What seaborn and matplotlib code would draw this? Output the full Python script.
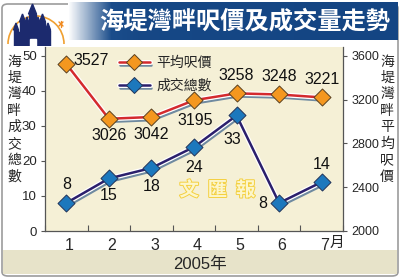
import numpy as np
import pandas as pd
import matplotlib
matplotlib.use("Agg")
import matplotlib.pyplot as plt
import matplotlib.patheffects as pe
from matplotlib.patches import FancyBboxPatch, Rectangle, Polygon, Arc
from matplotlib.lines import Line2D
from matplotlib.legend_handler import HandlerTuple
from matplotlib.colors import LinearSegmentedColormap
import matplotlib.transforms as mtrans
import seaborn as sns

# ---- data ----
months = ["1", "2", "3", "4", "5", "6", "7"]
price = [3527, 3026, 3042, 3195, 3258, 3248, 3221]
volume = [8, 15, 18, 24, 33, 8, 14]
title = "海堤灣畔呎價及成交量走勢"
left_label = "海堤灣畔成交總數"
right_label = "海堤灣畔平均呎價"
legend_labels = ["平均呎價", "成交總數"]
year_label = "2005年"
month_unit = "月"
left_ticks = [0, 10, 20, 30, 40, 50]
right_ticks = [2000, 2400, 2800, 3200, 3600]

df = pd.DataFrame({"m": np.arange(len(months)), "price": price, "volume": volume})

sns.set_theme(style="white")
plt.rcParams["font.family"] = ["Liberation Sans", "Noto Sans CJK TC", "DejaVu Sans"]
NARROW = ["Liberation Sans Narrow", "Liberation Sans", "Noto Sans CJK TC"]
CJK = ["Noto Sans CJK TC", "DejaVu Sans"]

W, H = 400, 278
fig = plt.figure(figsize=(4, 2.78), dpi=100)
fig.patch.set_facecolor("white")

def fx(px):
    return px / W

def fy(py):
    return 1 - py / H

# outer frame
frame = FancyBboxPatch((fx(2), fy(276)), fx(396), 272 / H,
                       boxstyle="round,pad=0,rounding_size=0.015",
                       transform=fig.transFigure, facecolor="white",
                       edgecolor="#9c9c9c", lw=1.2, zorder=-2)
fig.patches.append(frame)
band = Rectangle((fx(3), fy(274)), fx(394), 24 / H, transform=fig.transFigure,
                 facecolor="#e7e3c9", edgecolor="none", zorder=-1)
fig.patches.append(band)

# title gradient band
axt = fig.add_axes([fx(68), fy(40), fx(330), 38 / H])
cmap = LinearSegmentedColormap.from_list("g", ["#ffffff", "#1b4d8b", "#144583"])
grad = np.clip(np.linspace(0, 1, 300) / 0.22, 0, 1) * 0.8 + np.linspace(0, 0.2, 300)
axt.imshow(grad[None, :], aspect="auto", cmap=cmap, vmin=0, vmax=1,
           extent=[0, 1, 0, 1])
axt.set_axis_off()
axt.text(0.535, 0.5, title, color="white", fontsize=17.5, fontweight="bold",
         family=CJK, ha="center", va="center", transform=axt.transAxes)

# castle logo
axl = fig.add_axes([0, fy(46), fx(72), 44 / H])
axl.set_xlim(0, 72)
axl.set_ylim(44, 0)
axl.set_axis_off()
navy = "#1c2a6e"
axl.add_patch(Arc((36, 42), 56, 56, theta1=180, theta2=360, color="#f0a030", lw=1.2))
for (x0, x1, y0, apex) in [(29, 36, 12, 2), (20, 25, 20, 12), (40, 45, 20, 12),
                           (14, 18, 28, 21), (46, 50, 28, 21), (25, 29, 22, 15),
                           (36, 40, 22, 15)]:
    axl.add_patch(Rectangle((x0, y0), x1 - x0, 44 - y0, color=navy))
    axl.add_patch(Polygon([[x0 - 0.5, y0], [x1 + 0.5, y0], [(x0 + x1) / 2, apex]],
                          color=navy))
axl.add_patch(Rectangle((16, 30), 32, 14, color=navy))
axl.add_patch(Rectangle((29.5, 37), 6, 7, color="white"))
axl.plot([59, 63], [20, 24], color="#f08a20", lw=1)
axl.plot([59, 63], [24, 20], color="#f08a20", lw=1)
axl.plot([61, 61], [19, 25], color="#f08a20", lw=1)

# main axes
ax = fig.add_axes([fx(45), fy(231), fx(298), 184 / H])
ax.set_facecolor("#f5f0d6")
ax2 = ax.twinx()
ax.set_zorder(1)
ax2.set_zorder(2)

ax.set_xlim(-0.5, 6.5)
ax.set_ylim(0, 52.57)
ax2.set_ylim(2000, 3682)

shadow = "#6f8aa0"
pe_line = lambda: [pe.SimpleLineShadow(offset=(1.0, -2.2), shadow_color=shadow, alpha=1),
                   pe.Stroke(linewidth=3.6, foreground="white"), pe.Normal()]

sns.lineplot(data=df, x="m", y="volume", ax=ax, color="#2b1f6c", lw=1.8,
             path_effects=pe_line(), zorder=3)
sns.scatterplot(data=df, x="m", y="volume", ax=ax, marker="D", s=75,
                color="#1c78bd", edgecolor="#22345a", linewidth=0.7, zorder=5)
sns.lineplot(data=df, x="m", y="price", ax=ax2, color="#d42a2e", lw=1.8,
             path_effects=pe_line(), zorder=3)
sns.scatterplot(data=df, x="m", y="price", ax=ax2, marker="D", s=75,
                color="#f4971f", edgecolor="#5a4020", linewidth=0.7, zorder=5)

# data labels (offsets in px)
p_off = [(7, 3, "left"), (0, -17, "center"), (0, -17, "center"), (1, -20, "center"),
         (0, 18, "center"), (0, 18, "center"), (0, 18, "center")]
v_off = [(0, 18, "center"), (0, -17, "center"), (0, -19, "center"), (0, -21, "center"),
         (-4, -24, "center"), (-16, -1, "center"), (0, 17, "center")]
for i, (dx, dy, ha) in enumerate(p_off):
    ax2.annotate(str(price[i]), (i, price[i]), xytext=(dx * 0.72, dy * 0.72),
                 textcoords="offset points", ha=ha, va="center", fontsize=11.5,
                 family=NARROW, color="#111111", zorder=6)
for i, (dx, dy, ha) in enumerate(v_off):
    ax.annotate(str(volume[i]), (i, volume[i]), xytext=(dx * 0.72, dy * 0.72),
                textcoords="offset points", ha=ha, va="center", fontsize=11.5,
                family=NARROW, color="#111111", zorder=6)

# watermark
ax.text(3.55, 11.6, "文  匯  報", ha="center", va="center", fontsize=14,
        family=CJK, fontweight="bold", color="#fcf6cc",
        path_effects=[pe.withStroke(linewidth=1.4, foreground="#f4d040")], zorder=2)

# axes styling
for a in (ax, ax2):
    for s in a.spines.values():
        s.set_color("#555555")
        s.set_linewidth(0.9)
    a.spines["top"].set_visible(False)
    a.set_xlabel("")
    a.set_ylabel("")
ax2.spines["left"].set_visible(False)
ax2.spines["bottom"].set_visible(False)
ax.spines["right"].set_visible(False)

ax.set_yticks(left_ticks)
ax.set_yticklabels([str(t) for t in left_ticks], fontsize=9.5)
ax2.set_yticks(right_ticks)
ax2.set_yticklabels([str(t) for t in right_ticks], fontsize=9)
ax.tick_params(axis="y", length=3, width=0.8, color="#555555", pad=3, direction="out", left=True)
ax2.tick_params(axis="y", length=3, width=0.8, color="#555555", pad=3, direction="out", right=True)

ax.set_xticks(np.arange(len(months)))
ax.set_xticklabels(months, fontsize=11.5, family=NARROW)
ax.set_xticks(np.arange(-0.5, 7, 1), minor=True)
ax.tick_params(axis="x", which="major", length=0, pad=5)
ax.tick_params(axis="x", which="minor", length=4, width=0.8, color="#555555",
               direction="in", bottom=True)
shift = mtrans.ScaledTranslation(3 / 100, 0, fig.dpi_scale_trans)
for lab in ax.get_xticklabels():
    lab.set_transform(lab.get_transform() + shift)

fig.text(fx(337), fy(243), month_unit, fontsize=10.5, family=CJK, ha="center", va="center")
fig.text(fx(200), fy(264), year_label, fontsize=12, ha="center", va="center",
         family=["Liberation Sans", "Noto Sans CJK TC"])

# vertical axis titles
fig.text(fx(14), fy(119), "\n".join(left_label), fontsize=10, family=CJK,
         ha="center", va="center", linespacing=1.22)
fig.text(fx(387), fy(119), "\n".join(right_label), fontsize=10, family=CJK,
         ha="center", va="center", linespacing=1.22)

# legend
h_price = (Line2D([], [], color="#d42a2e", lw=1.8, path_effects=pe_line()),
           Line2D([], [], ls="none", marker="D", ms=8.5, mfc="#f4971f", mec="#5a4020", mew=0.7))
h_vol = (Line2D([], [], color="#2b1f6c", lw=1.8, path_effects=pe_line()),
         Line2D([], [], ls="none", marker="D", ms=8.5, mfc="#1c78bd", mec="#22345a", mew=0.7))
leg = ax2.legend([h_price, h_vol], legend_labels, handler_map={tuple: HandlerTuple(ndivide=1)},
                 loc="upper left", bbox_to_anchor=(fx(112), fy(49)),
                 bbox_transform=fig.transFigure, frameon=False, borderpad=0,
                 handlelength=2.2, handletextpad=0.5, labelspacing=0.62,
                 prop={"family": CJK, "size": 10})

fig.savefig("out.png", dpi=100)
